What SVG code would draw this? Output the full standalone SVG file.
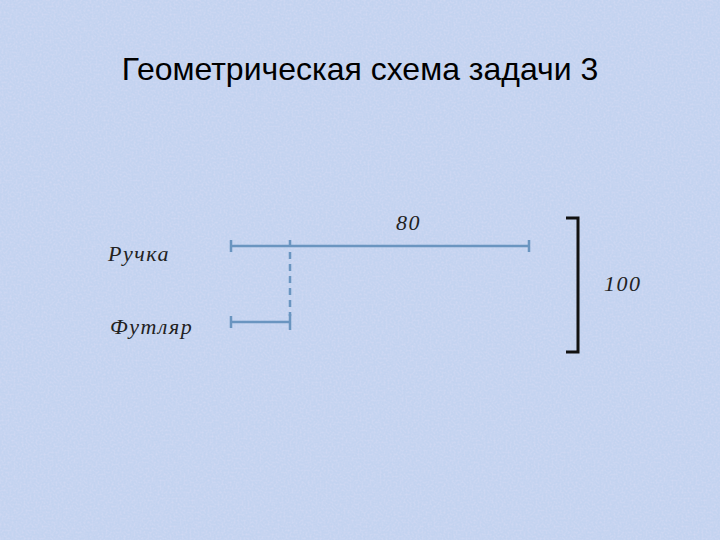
<svg xmlns="http://www.w3.org/2000/svg" width="720" height="540" viewBox="0 0 720 540">
<defs>
<style>
.lbl{font-family:"Liberation Serif","Times New Roman",serif;font-style:italic;font-size:22px;letter-spacing:1.5px;fill:#222}
.dim{stroke:#6a95c0;stroke-width:2.5;fill:none}
</style>
<filter id="tex" x="0" y="0" width="100%" height="100%">
<feTurbulence type="fractalNoise" baseFrequency="0.5" numOctaves="2" seed="3"/>
<feColorMatrix type="matrix" values="0 0 0 0 0.85  0 0 0 0 0.78  0 0 0 0 0.95  1.2 0 0 0 -0.45"/>
</filter>
</defs>
<rect width="720" height="540" fill="#c3d3f0"/>
<rect width="720" height="540" filter="url(#tex)" opacity="0.5"/>
<text x="360" y="80" text-anchor="middle" font-family="Liberation Sans, Arial, sans-serif" font-size="32" fill="#000">Геометрическая схема задачи 3</text>
<g id="connectors">
<path class="dim" d="M231 246H529M231 240V252M529 240V252"/>
<path class="dim" d="M231 322H290M231 316V328M290 314V330"/>
<path class="dim" d="M290 240V316" stroke-dasharray="7,5"/>
<path d="M566 218H578V352H566" stroke="#111" stroke-width="3" fill="none"/>
</g>
<g id="ruchka"><text class="lbl" x="108" y="261">Ручка</text></g>
<g id="futlyar"><text class="lbl" x="110" y="334">Футляр</text></g>
<g id="l80"><text class="lbl" x="396" y="230">80</text></g>
<g id="l100"><text class="lbl" x="604" y="291">100</text></g>
</svg>
